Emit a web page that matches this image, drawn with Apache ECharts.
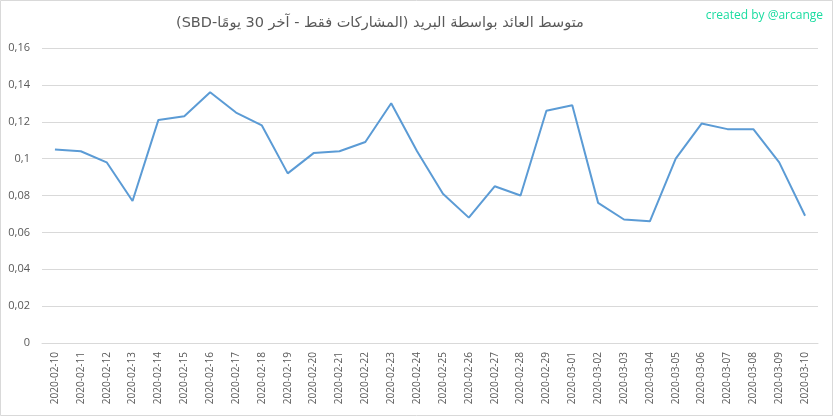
<!DOCTYPE html>
<html>
<head>
<meta charset="utf-8">
<script src="https://cdn.jsdelivr.net/npm/echarts@6/dist/echarts.min.js"></script>
<style>html,body{margin:0;padding:0;background:#fff}#c{width:833px;height:416px}</style>
</head>
<body>
<div id="c"></div>
<script>
var titleText = 'متوسط العائد بواسطة البريد (المشاركات فقط - آخر 30 يومًا-SBD)';
var creditText = 'created by @arcange';
var dates = ['2020-02-10','2020-02-11','2020-02-12','2020-02-13','2020-02-14','2020-02-15','2020-02-16','2020-02-17','2020-02-18','2020-02-19','2020-02-20','2020-02-21','2020-02-22','2020-02-23','2020-02-24','2020-02-25','2020-02-26','2020-02-27','2020-02-28','2020-02-29','2020-03-01','2020-03-02','2020-03-03','2020-03-04','2020-03-05','2020-03-06','2020-03-07','2020-03-08','2020-03-09','2020-03-10'];
var values = [0.105,0.104,0.098,0.077,0.121,0.123,0.136,0.125,0.118,0.092,0.103,0.104,0.109,0.130,0.104,0.081,0.068,0.085,0.080,0.126,0.129,0.076,0.067,0.066,0.100,0.119,0.116,0.116,0.098,0.069];

var chart = echarts.init(document.getElementById('c'), null, {renderer: 'canvas'});
chart.setOption({
  animation: false,
  backgroundColor: '#fff',
  title: [{
    text: '\u202B' + titleText + '\u202C',
    left: 171,
    top: 11,
    textStyle: {fontFamily: 'DejaVu Sans', fontSize: 14.5, fontWeight: 'normal', color: '#595959'}
  }, {
    text: creditText,
    right: 5,
    top: 5,
    textStyle: {fontFamily: 'Open Sans', fontSize: 12, fontWeight: 'normal', color: '#19dca0'}
  }],
  graphic: [{
    type: 'rect',
    shape: {x: 0.5, y: 0.5, width: 832, height: 415},
    style: {fill: null, stroke: '#d9d9d9', lineWidth: 1},
    silent: true
  }],
  grid: {left: 42, right: 15, top: 48, bottom: 73},
  xAxis: {
    type: 'category',
    data: dates,
    boundaryGap: true,
    axisLine: {lineStyle: {color: '#d9d9d9'}},
    axisTick: {show: false},
    axisLabel: {rotate: 90, interval: 0, margin: 9, color: '#595959', fontFamily: 'Open Sans', fontSize: 10}
  },
  yAxis: {
    type: 'value',
    min: 0,
    max: 0.16,
    interval: 0.02,
    axisLine: {show: false},
    axisTick: {show: false},
    splitLine: {lineStyle: {color: '#d9d9d9'}},
    axisLabel: {
      margin: 12,
      color: '#595959',
      fontFamily: 'Open Sans',
      fontSize: 11,
      formatter: function (v) { return String(+v.toFixed(2)).replace('.', ','); }
    }
  },
  series: [{
    type: 'line',
    data: values,
    showSymbol: false,
    lineStyle: {color: '#5b9bd5', width: 2},
    itemStyle: {color: '#5b9bd5'}
  }]
});
</script>
</body>
</html>
